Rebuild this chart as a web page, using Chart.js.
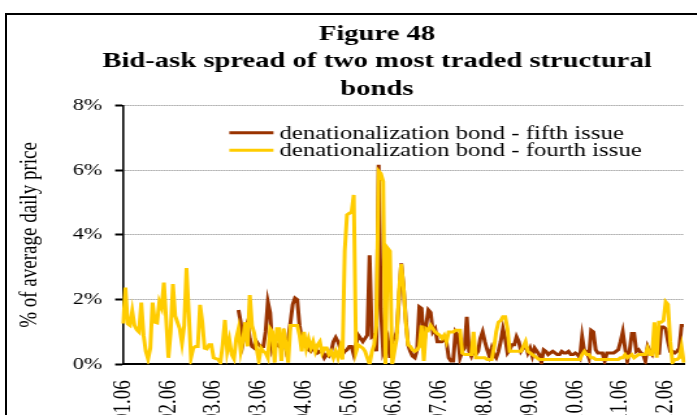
<!DOCTYPE html>
<html>
<head>
<meta charset="utf-8">
<script src="https://cdn.jsdelivr.net/npm/chart.js@4/dist/chart.umd.min.js"></script>
<style>
  html, body { margin: 0; padding: 0; background: #fff; overflow: hidden; width: 697px; height: 415px; }
  #frame { position: absolute; left: 5px; top: 13px; width: 760px; height: 500px; border: 2px solid #000; box-sizing: border-box; }
  /* the chart is drawn narrow and widened horizontally, like a stretched spreadsheet chart */
  #wrap { position: absolute; left: 0; top: 0; width: 580px; height: 431px; transform: scaleX(1.3); transform-origin: 0 0; }
</style>
</head>
<body>
<div id="frame"></div>
<div id="wrap"><canvas id="chart"></canvas></div>
<script>
// Month tick labels (one every pointsPerMonth trading days)
const monthLabels = ['01.06', '02.06', '03.06', '03.06', '04.06', '05.06', '06.06',
                     '07.06', '08.06', '09.06', '10.06', '11.06', '12.06'];
const pointsPerMonth = 20;

// Daily bid-ask spread, % of average daily price
const fourthIssue = [
  1.26, 2.37, 1.25, 1.2, 1.65, 1.2, 1.07, 1.0, 1.91, 0.9,
  0.4, 0.16, 0.5, 1.91, 1.3, 1.28, 1.93, 1.75, 2.53, 1.4,
  0.2, 1.0, 2.48, 1.5, 1.3, 1.1, 0.65, 1.2, 2.98, 1.6,
  0.2, 0.5, 0.55, 0.55, 1.84, 1.3, 0.5, 0.48, 0.6, 0.6,
  0.2, 0.17, 0.15, 0.05, 0.6, 1.37, 0.4, 0.75, 0.3, 0.17,
  0.8, 1.1, 0.4, 0.75, 1.3, 0.55, 2.14, 1.2, 0.95, 0.5,
  0.1, 0.5, 0.4, 0.35, 0.2, 1.1, 1.0, 0.05, 1.1, 1.1,
  0.1, 1.1, 0.6, 0.05, 1.2, 1.2, 1.2, 1.2, 0.9, 0.4,
  1.0, 0.5, 0.78, 0.5, 0.7, 0.4, 0.6, 0.7, 0.35, 0.5,
  0.5, 0.3, 0.4, 0.2, 0.4, 0.2, 0.5, 0.15, 3.5, 4.62,
  4.67, 4.7, 5.24, 0.38, 0.6, 0.55, 0.5, 0.4, 0.2, 0.0,
  0.38, 0.6, 1.2, 5.98, 5.9, 5.66, 0.0, 3.59, 3.5, 0.0,
  0.4, 0.8, 2.25, 3.1, 2.4, 1.3, 0.6, 0.55, 0.45, 0.4,
  0.45, 0.55, 1.2, 0.1, 1.1, 1.05, 1.2, 1.1, 1.0, 0.95,
  0.9, 0.8, 0.9, 0.7, 1.0, 1.0, 1.0, 1.05, 1.05, 1.05,
  0.35, 0.3, 0.3, 0.3, 0.3, 1.0, 0.2, 0.2, 0.2, 0.2,
  0.2, 0.15, 0.15, 0.15, 0.5, 1.0, 1.3, 1.35, 1.47, 1.47,
  1.1, 0.4, 0.4, 0.4, 0.4, 0.4, 0.4, 0.55, 0.7, 0.4,
  0.35, 0.3, 0.25, 0.2, 0.15, 0.15, 0.15, 0.15, 0.15, 0.15,
  0.15, 0.15, 0.15, 0.15, 0.15, 0.15, 0.15, 0.15, 0.15, 0.15,
  0.15, 0.15, 0.15, 0.3, 0.4, 0.3, 0.3, 0.2, 0.2, 0.15,
  0.15, 0.15, 0.15, 0.15, 0.15, 0.15, 0.15, 0.15, 0.15, 0.15,
  0.2, 0.2, 0.3, 0.2, 0.25, 0.3, 0.2, 0.25, 0.3, 0.3,
  0.3, 0.3, 0.5, 0.3, 0.3, 1.3, 0.2, 1.3, 1.3, 1.35,
  1.93, 1.85, 0.7, 0.05, 0.15, 0.15, 0.2, 0.55, 0.05
];

// The fifth issue starts trading later in the year
const fifthIssueStart = 51;
const fifthIssue = [
  1.68, 1.3, 0.7, 1.1, 1.3, 0.8, 0.55, 0.5, 0.7,
  0.6, 0.55, 0.55, 1.0, 1.93, 1.6, 0.5, 0.7, 0.6, 0.55,
  0.7, 0.9, 0.5, 0.8, 1.3, 1.85, 2.05, 2.0, 1.2, 0.8,
  0.6, 0.55, 0.45, 0.4, 0.5, 0.5, 0.35, 0.4, 0.4, 0.2,
  0.3, 0.25, 0.4, 0.7, 0.83, 0.7, 0.5, 0.3, 0.4, 0.45,
  0.55, 0.55, 0.3, 0.6, 0.9, 0.8, 0.7, 0.8, 0.9, 3.37,
  0.85, 0.9, 0.4, 6.17, 1.72, 0.4, 0.6, 0.8, 0.2, 0.7,
  0.8, 1.0, 2.0, 3.12, 2.4, 1.4, 0.6, 0.4, 0.25, 0.2,
  0.45, 1.78, 1.73, 0.6, 1.2, 1.68, 1.6, 1.0, 1.1, 0.7,
  0.7, 0.7, 0.75, 0.7, 0.2, 0.1, 0.1, 1.0, 0.9, 0.2,
  0.4, 0.5, 1.47, 0.4, 0.25, 0.45, 0.3, 0.4, 0.8, 1.0,
  0.7, 0.45, 0.25, 0.5, 0.3, 0.2, 0.4, 0.7, 1.1, 0.8,
  0.35, 0.45, 0.6, 0.6, 0.85, 0.7, 0.4, 0.5, 0.6, 0.35,
  0.5, 0.25, 0.5, 0.4, 0.3, 0.05, 0.45, 0.4, 0.3, 0.35,
  0.4, 0.35, 0.3, 0.3, 0.4, 0.35, 0.35, 0.4, 0.3, 0.3,
  0.35, 0.3, 0.2, 0.85, 0.4, 0.4, 0.2, 1.05, 1.0, 0.45,
  0.35, 0.35, 0.35, 0.1, 0.35, 0.35, 0.35, 0.35, 0.4, 0.45,
  0.7, 1.0, 0.5, 0.1, 0.4, 0.95, 0.95, 0.4, 0.45, 0.35,
  0.3, 0.1, 0.55, 0.4, 0.3, 0.55, 0.7, 0.3, 1.15, 1.15,
  1.1, 0.7, 0.4, 0.4, 0.35, 0.4, 0.5, 1.2, 1.2
];

const seriesNames = ['denationalization bond - fifth issue', 'denationalization bond - fourth issue'];
const titleLines = ['Figure 48', 'Bid-ask spread of two most traded structural', 'bonds'];
const yTicks = [0, 2, 4, 6, 8];

// Category axis: one slot per trading day, month name on the first day of each block
const dayLabels = fourthIssue.map((_, i) => (i % pointsPerMonth === 0 ? monthLabels[i / pointsPerMonth] : ''));
const fifthSeries = new Array(fifthIssueStart).fill(null).concat(fifthIssue);

const SERIF = '"Liberation Serif", "Times New Roman", serif';

// Two-row legend drawn inside the plot area
const insideLegend = {
  id: 'insideLegend',
  afterDatasetsDraw(chart, args, opts) {
    const { ctx, chartArea } = chart;
    ctx.save();
    ctx.font = opts.size + 'px ' + SERIF;
    ctx.textBaseline = 'middle';
    ctx.textAlign = 'left';
    opts.order.forEach((dsIndex, row) => {
      const ds = chart.data.datasets[dsIndex];
      const x = chartArea.left + opts.left;
      const y = chartArea.top + opts.top + row * opts.rowGap;
      ctx.strokeStyle = ds.borderColor;
      ctx.lineWidth = 3;
      ctx.beginPath();
      ctx.moveTo(x, y);
      ctx.lineTo(x + opts.lineLength, y);
      ctx.stroke();
      ctx.fillStyle = '#000';
      ctx.fillText(ds.label, x + opts.lineLength + opts.gap, y + 1);
    });
    ctx.restore();
  }
};

new Chart(document.getElementById('chart'), {
  type: 'line',
  data: {
    labels: dayLabels,
    datasets: [
      {
        label: seriesNames[0],
        data: fifthSeries,
        borderColor: '#993300',
        borderWidth: 3,
        pointRadius: 0,
        tension: 0,
        order: 1
      },
      {
        label: seriesNames[1],
        data: fourthIssue,
        borderColor: '#FFCC00',
        borderWidth: 3,
        pointRadius: 0,
        tension: 0,
        order: 0
      }
    ]
  },
  options: {
    responsive: true,
    maintainAspectRatio: false,
    animation: false,
    devicePixelRatio: 1,
    layout: { padding: { left: 4, right: 4, top: 0, bottom: 0 } },
    plugins: {
      legend: { display: false },
      tooltip: { enabled: false },
      title: {
        display: true,
        text: titleLines,
        color: '#000',
        font: { family: SERIF, size: 22, weight: 'bold', lineHeight: 1.25 },
        padding: { top: 20.5, bottom: 2.7 }
      },
      insideLegend: { order: [0, 1], left: 81.6, top: 27, rowGap: 17.6, lineLength: 34, gap: 4.6, size: 19 }
    },
    scales: {
      x: {
        grid: { display: false },
        border: { display: true, color: '#000', width: 2 },
        ticks: {
          autoSkip: false,
          maxRotation: 90,
          minRotation: 90,
          padding: 8,
          color: '#000',
          font: { family: SERIF, size: 19 }
        }
      },
      y: {
        min: 0,
        max: 8,
        afterBuildTicks(scale) { scale.ticks = yTicks.map(v => ({ value: v })); },
        grid: {
          color: '#808080',
          lineWidth: 1,
          tickColor: '#000',
          tickLength: 6.2,
          tickWidth: 2,
          tickBorderDash: []
        },
        border: { display: true, color: '#000', width: 1.6, dash: [1, 1] },
        ticks: {
          padding: 10,
          color: '#000',
          font: { family: SERIF, size: 17 },
          callback: v => v + '%'
        },
        title: {
          display: true,
          text: '% of average daily price',
          color: '#000',
          font: { family: SERIF, size: 19 },
          padding: { top: 7.6, bottom: 11.5 }
        }
      },
      // blank margin to the right of the plot, so the title stays centred on the full frame
      margin: {
        type: 'linear',
        position: 'right',
        display: true,
        grid: { display: false, drawTicks: false },
        border: { display: false },
        ticks: { display: false },
        afterFit(scale) { scale.width = 50; }
      }
    }
  },
  plugins: [insideLegend]
});
</script>
</body>
</html>
